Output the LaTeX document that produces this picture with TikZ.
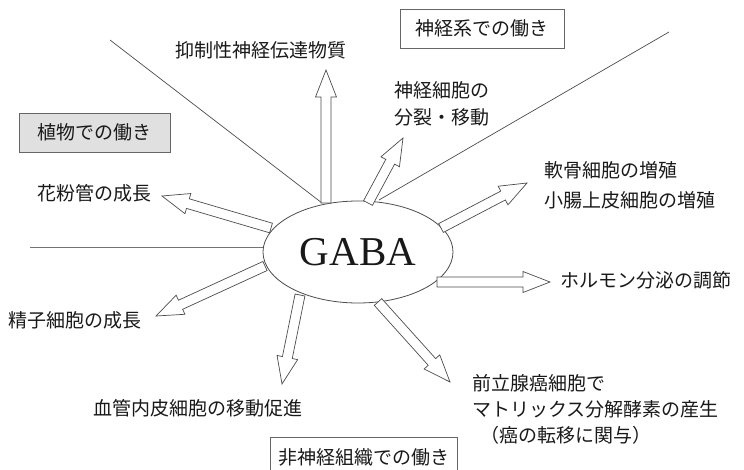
\documentclass[tikz,border=0pt]{standalone}
\usepackage{fontspec}
\setmainfont{Liberation Serif}
\newfontfamily\jpfont{Noto Sans CJK JP}
\usetikzlibrary{calc,shapes.geometric}
\newcommand\blockarrow[2]{%
  \path ($(#2)!27pt!(#1)$) coordinate (hb);
  \draw[barrow] ($(#1)!5pt!90:(#2)$) -- ($(hb)!5pt!90:(#2)$) -- ($(hb)!10.5pt!90:(#2)$)
    -- (#2) -- ($(hb)!10.5pt!-90:(#2)$) -- ($(hb)!5pt!-90:(#2)$) -- ($(#1)!5pt!-90:(#2)$) -- cycle;}
\begin{document}
\begin{tikzpicture}[x=1pt,y=-1pt,
  lbl/.style={font=\jpfont\fontsize{19}{27}\selectfont, inner sep=0pt, text=black!90},
  catbox/.style={draw=black!60, line width=0.8pt, font=\jpfont\fontsize{19}{24}\selectfont, inner sep=0pt, text=black!90},
  divline/.style={draw=black!70, line width=0.7pt},
  barrow/.style={draw=black!70, fill=white, line width=0.7pt, line join=miter}]
\useasboundingbox (0,0) rectangle (744,469);

% dividing lines
\coordinate (l1a) at (110,40);  \coordinate (l1b) at (322,203);
\coordinate (l2a) at (669,32);  \coordinate (l2b) at (379,200);
\coordinate (l3a) at (30,247);  \coordinate (l3b) at (264,247);
\draw[divline] (l1a) -- (l1b);
\draw[divline] (l2a) -- (l2b);
\draw[divline, draw=black!55, line width=1pt] (l3a) -- (l3b);

% category boxes
\node[catbox, fill=black!12, minimum width=151pt, minimum height=39pt] (plant) at (94.5,132.5) {植物での働き};
\node[catbox, fill=white, minimum width=164pt, minimum height=39pt] (nerve) at (482,28.5) {神経系での働き};
\node[catbox, fill=white, minimum width=187pt, minimum height=40pt] (nonnerve) at (363.5,457) {非神経組織での働き};

% centre
\node[draw=black!70, line width=0.8pt, ellipse, minimum width=190pt, minimum height=102pt,
      inner sep=0pt, fill=white, text=black!90, font=\fontsize{41}{41}\selectfont] (g) at (358,252) {GABA};

% labels
\node[lbl] (t1) at (261,50) {抑制性神経伝達物質};
\node[lbl, anchor=west, align=left] (t2) at (394,103.5) {神経細胞の\\分裂・移動};
\node[lbl, anchor=west, align=left, font=\jpfont\fontsize{19}{30}\selectfont] (t3) at (544,185) {軟骨細胞の増殖\\小腸上皮細胞の増殖};
\node[lbl, anchor=west] (t4) at (560,280) {ホルモン分泌の調節};
\node[lbl, anchor=west, align=left, font=\jpfont\fontsize{19}{26}\selectfont] (t5) at (472,409) {前立腺癌細胞で\\マトリックス分解酵素の産生\\\hspace*{8pt}（癌の転移に関与）};
\node[lbl] (t6) at (197.5,408) {血管内皮細胞の移動促進};
\node[lbl, anchor=west] (t7) at (8,320) {精子細胞の成長};
\node[lbl, anchor=west] (t8) at (37,193) {花粉管の成長};

% arrow ends
\coordinate (b1) at (326,203); \coordinate (e1) at (326,70);
\coordinate (b2) at (368,203); \coordinate (e2) at (403,138);
\coordinate (b3) at (441,228); \coordinate (e3) at (527,183);
\coordinate (b4) at (437,282); \coordinate (e4) at (550,282);
\coordinate (b5) at (378,302); \coordinate (e5) at (450,382);
\coordinate (b6) at (300,295); \coordinate (e6) at (282,384);
\coordinate (b7) at (271,228); \coordinate (e7) at (162,196);
\coordinate (b8) at (265,266); \coordinate (e8) at (156,316);

\blockarrow{b1}{e1}
\blockarrow{b2}{e2}
\blockarrow{b3}{e3}
\blockarrow{b4}{e4}
\blockarrow{b5}{e5}
\blockarrow{b6}{e6}
\blockarrow{b7}{e7}
\blockarrow{b8}{e8}
\end{tikzpicture}
\end{document}
